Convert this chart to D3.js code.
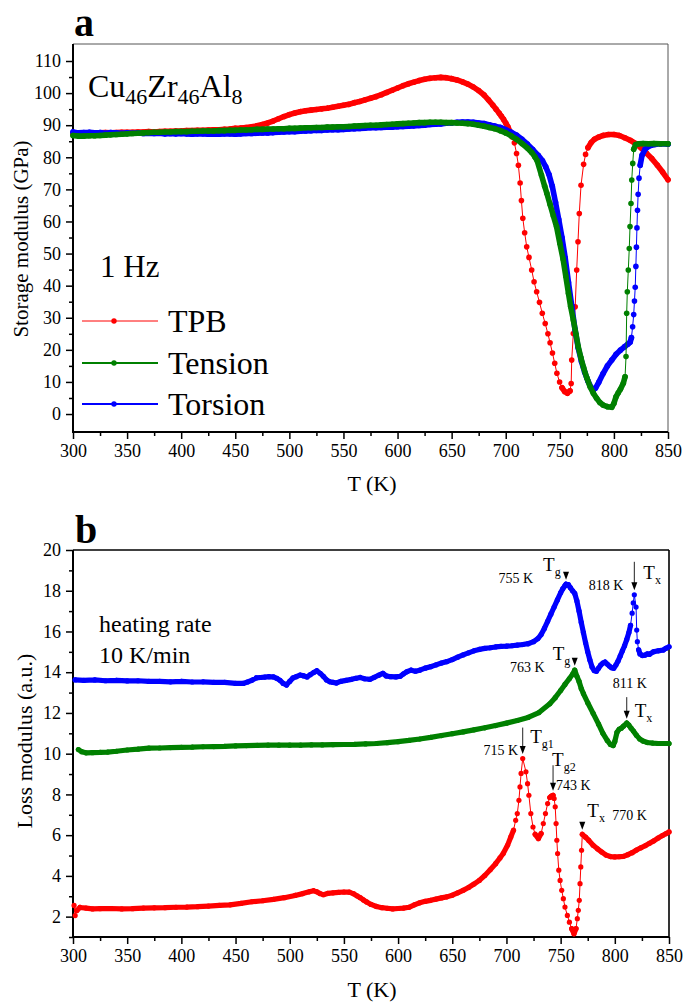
<!DOCTYPE html>
<html>
<head>
<meta charset="utf-8">
<script src="https://cdn.jsdelivr.net/npm/d3@7"></script>
<style>
  body { margin: 0; background: #fff; }
  svg { display: block; }
  text { font-family: 'Liberation Serif', 'Times New Roman', serif; fill: #000; }
</style>
</head>
<body>
<svg id="fig" width="685" height="1005"></svg>
<script>
// ---------- data ----------
const seriesNames = ["TPB", "Tension", "Torsion"];
const seriesColors = ["#ff0000", "#008000", "#0000ff"];

const tempTicks = [300, 350, 400, 450, 500, 550, 600, 650, 700, 750, 800, 850];
const storageTicks = [0, 10, 20, 30, 40, 50, 60, 70, 80, 90, 100, 110];
const lossTicks = [2, 4, 6, 8, 10, 12, 14, 16, 18, 20];

// measurement spacing of each trace (K), TPB / Tension / Torsion
const storageStep = [2.2, 0.6, 0.6];
const lossStep = [1.8, 0.6, 0.8];

// storage modulus E' (GPa) at 1 Hz, [T (K), E']
const storageTPB = [
[300,87.4],[305,87.5],[310,87.5],[315,87.6],[320,87.5],[325,87.6],[330,87.7],[335,87.6],[340,87.7],[345,87.8],
[350,87.8],[355,87.8],[360,87.9],[365,87.9],[370,88.0],[375,87.9],[380,88.0],[385,88.1],[390,88.1],[395,88.2],
[400,88.2],[405,88.3],[410,88.3],[415,88.4],[420,88.4],[425,88.5],[430,88.6],[435,88.6],[440,88.7],[445,88.8],
[450,89.0],[455,89.1],[460,89.3],[465,89.5],[470,89.8],[475,90.2],[480,90.7],[485,91.3],[490,92.0],[495,92.7],
[500,93.3],[505,93.8],[510,94.2],[515,94.5],[520,94.7],[525,94.9],[530,95.1],[535,95.3],[540,95.6],[545,95.9],
[550,96.2],[555,96.5],[560,97.0],[565,97.4],[570,97.9],[575,98.4],[580,98.9],[585,99.5],[590,100.2],[595,100.9],
[600,101.6],[605,102.3],[610,102.9],[615,103.4],[620,103.9],[625,104.3],[630,104.6],[635,104.8],[640,104.9],[645,104.8],
[650,104.5],[655,104.1],[660,103.5],[665,102.8],[670,101.9],[675,100.8],[680,99.4],[684,97.9],[688,96.3],[691,95.0],
[694,93.7],[696,92.8],[698,91.8],[700,90.7],[702,89.5],[704,88.0],[706,86.3],[708,84.5],[710,81.2],[711.7,77.5],
[713.3,72.0],[714.5,66.5],[715.8,61.0],[717.5,56.5],[719.4,52.1],[721.5,48.8],[724.0,44.9],[726.2,41.2],[728.6,38.1],[731.2,34.8],
[733.8,31.4],[736.5,28.2],[739.0,25.0],[741.0,22.2],[743.2,19.0],[745.3,15.8],[747.3,12.7],[749.8,10.0],[752.0,8.2],[754.5,7.0],
[757.0,6.5],[759.4,7.2],[760.5,9.5],[761.0,16.8],[762.5,25.1],[764.2,33.4],[765.6,44.9],[766.8,53.7],[768.0,62.5],[769.6,71.3],
[772.0,77.8],[773.8,80.9],[776,83.0],[779,84.6],[782,85.6],[786,86.3],[790,86.8],[795,87.1],[800,87.1],[805,86.8],
[810,86.1],[815,85.3],[820,84.3],[825,83.0],[830,81.3],[835,79.6],[840,77.6],[845,75.4],[850,73.0]
];

const storageTension = [
[300,86.8],[305,86.6],[310,86.6],[315,86.7],[320,86.7],[325,86.8],[330,86.9],[335,87.0],[340,87.1],[345,87.2],
[350,87.3],[355,87.4],[360,87.5],[365,87.6],[370,87.7],[375,87.8],[380,87.8],[385,87.9],[390,87.9],[395,88.0],
[400,88.0],[405,88.0],[410,88.1],[415,88.1],[420,88.2],[425,88.2],[430,88.2],[435,88.3],[440,88.3],[445,88.4],
[450,88.4],[455,88.5],[460,88.5],[465,88.6],[470,88.7],[475,88.7],[480,88.8],[485,88.8],[490,88.9],[495,88.9],
[500,89.0],[505,89.0],[510,89.1],[515,89.2],[520,89.2],[525,89.3],[530,89.3],[535,89.4],[540,89.4],[545,89.5],
[550,89.5],[555,89.6],[560,89.7],[565,89.8],[570,89.9],[575,90.0],[580,90.0],[585,90.1],[590,90.2],[595,90.3],
[600,90.4],[605,90.5],[610,90.6],[615,90.7],[620,90.8],[625,90.8],[630,90.9],[635,90.9],[640,90.9],[645,90.8],
[650,90.8],[655,90.7],[660,90.6],[665,90.5],[670,90.3],[675,90.0],[680,89.7],[685,89.3],[690,88.9],[695,88.3],
[700,87.6],[705,86.7],[710,85.6],[715,84.3],[720,82.9],[724,81.5],[727,80.1],[729,79.0],[733,74.5],[736,71.0],
[738,68.8],[741,65.3],[744,61.8],[747,58.4],[750,53.2],[753,48.3],[755.5,43.0],[758,37.6],[760,33.5],[762.5,29.3],
[765,24.8],[767,21.0],[769.5,17.5],[772,14.4],[775,11.2],[778,8.5],[781,6.5],[784,4.9],[787,3.6],[790,2.8],
[794,2.3],[798,2.1],[800,3.3],[802,5.4],[804,6.6],[806,7.7],[808.7,9.6],[810.3,11.6],[811.2,17.9],[811.8,31.4],
[812.4,38.1],[813.3,44.9],[814.2,51.6],[814.9,58.4],[815.8,65.6],[816.5,72.9],[817.4,78.1],[818.3,82.5],[820,83.9],[823,84.2],
[827,84.3],[832,84.2],[837,84.3],[843,84.2],[850,84.2]
];

const storageTorsion = [
[300,87.9],[305,87.6],[310,87.7],[315,87.8],[320,87.6],[325,87.7],[330,87.5],[335,87.7],[340,87.6],[345,87.5],
[350,87.6],[355,87.5],[360,87.6],[365,87.4],[370,87.5],[375,87.4],[380,87.5],[385,87.3],[390,87.4],[395,87.3],
[400,87.4],[405,87.3],[410,87.2],[415,87.3],[420,87.3],[425,87.2],[430,87.3],[435,87.2],[440,87.3],[445,87.3],
[450,87.2],[455,87.3],[460,87.4],[465,87.4],[470,87.5],[475,87.6],[480,87.6],[485,87.7],[490,87.8],[495,87.9],
[500,88.0],[505,88.0],[510,88.1],[515,88.2],[520,88.3],[525,88.4],[530,88.4],[535,88.5],[540,88.6],[545,88.6],
[550,88.7],[555,88.8],[560,88.9],[565,89.0],[570,89.1],[575,89.2],[580,89.2],[585,89.3],[590,89.4],[595,89.4],
[600,89.5],[605,89.6],[610,89.7],[615,89.8],[620,89.9],[625,90.0],[630,90.2],[635,90.3],[640,90.4],[645,90.6],
[650,90.7],[655,90.9],[660,91.0],[665,91.0],[670,90.9],[675,90.7],[680,90.5],[685,90.1],[690,89.7],[695,89.3],
[700,88.6],[705,87.8],[710,86.9],[715,85.6],[720,84.1],[725,82.4],[730,80.6],[734,78.9],[737,77.0],[740,74.6],
[743,71.0],[746,66.0],[749,60.6],[752,55.0],[755,48.6],[758,41.0],[761,33.8],[764,26.4],[767,20.6],[770,16.4],
[773,13.0],[776,10.3],[779,8.2],[781,7.5],[783,8.1],[786,9.9],[790,12.6],[794,15.0],[798,16.8],[802,18.6],
[806,19.9],[810,21.0],[813,21.8],[815,22.4],[816.2,23.8],[817.3,27.2],[818.3,31.0],[819.0,35.2],[819.7,39.5],[820.3,46.0],
[820.8,52.0],[821.3,58.0],[821.8,63.5],[822.4,68.5],[823.2,73.5],[824.3,77.5],[826,80.6],[829,82.6],[833,83.6],[838,84.0],
[843,84.2],[850,84.1]
];

// loss modulus E'' (a.u.), heating rate 10 K/min, [T (K), E'']
const lossTPB = [
[301,2.55],[302,2.05],[303.5,2.3],[306.5,2.45],[312,2.42],[318,2.38],[325,2.39],[335,2.4],[345,2.38],[355,2.39],
[365,2.42],[375,2.43],[385,2.44],[395,2.46],[405,2.47],[415,2.49],[425,2.52],[435,2.55],[445,2.58],[455,2.65],
[465,2.73],[475,2.78],[485,2.85],[495,2.93],[505,3.04],[512,3.13],[518,3.22],[522,3.27],[525,3.22],[528,3.13],
[531,3.08],[535,3.14],[540,3.17],[545,3.19],[550,3.21],[555,3.2],[559,3.12],[562,3.02],[565,2.93],[568,2.82],
[571,2.72],[575,2.6],[580,2.5],[585,2.44],[590,2.41],[595,2.38],[600,2.4],[605,2.42],[610,2.46],[615,2.58],
[620,2.68],[625,2.75],[630,2.8],[635,2.86],[640,2.92],[645,2.97],[650,3.05],[655,3.17],[660,3.29],[665,3.43],
[670,3.6],[675,3.78],[680,4.02],[685,4.3],[690,4.6],[694,4.88],[697,5.1],[701,5.5],[704,5.91],[706.5,6.24],
[708.5,6.73],[710,7.06],[711.5,7.71],[712.5,8.37],[713.5,9.03],[715,9.76],[718,9.11],[719.5,8.53],[720.7,7.96],[722.5,7.06],
[724.5,6.4],[726.5,6.04],[729.5,5.83],[732,6.08],[734,6.57],[736,7.06],[738,7.55],[740,7.85],[741.5,7.92],[743,7.96],
[744,7.8],[745,7.39],[745.8,6.57],[746.5,5.75],[747.2,5.1],[748.3,4.28],[749.5,3.78],[751,3.29],[752.5,2.88],[754,2.47],
[756.2,2.06],[758.1,1.73],[760.2,1.41],[762.3,1.16],[764.2,1.41],[765.4,1.9],[766.3,2.31],[767.2,2.8],[767.9,3.62],[768.6,4.44],
[769.3,5.26],[770,6.04],[773,5.9],[776,5.74],[780,5.5],[784,5.33],[788,5.17],[792,5.02],[796,4.95],[800,4.93],
[804,4.94],[808,4.96],[812,5.04],[816,5.14],[820,5.27],[824,5.38],[828,5.48],[832,5.6],[836,5.72],[840,5.86],
[844,5.98],[847,6.07],[850,6.16]
];

const lossTension = [
[305,10.2],[308,10.1],[312,10.04],[318,10.05],[325,10.06],[332,10.08],[340,10.12],[350,10.18],[360,10.22],[370,10.27],
[380,10.28],[390,10.3],[400,10.31],[410,10.32],[420,10.34],[430,10.35],[440,10.36],[450,10.38],[460,10.4],[470,10.41],
[480,10.42],[490,10.42],[500,10.42],[510,10.42],[520,10.43],[530,10.43],[540,10.44],[550,10.45],[560,10.46],[570,10.48],
[580,10.5],[590,10.54],[600,10.59],[610,10.65],[620,10.72],[630,10.8],[640,10.89],[650,10.98],[660,11.07],[670,11.17],
[680,11.27],[690,11.38],[700,11.5],[710,11.63],[720,11.78],[730,12.02],[740,12.45],[745,12.75],[750,13.1],[754,13.4],
[758,13.68],[761,13.9],[763,14.1],[765,13.8],[767,13.55],[769,13.2],[771,12.95],[775,12.5],[780,11.98],[785,11.45],
[789,11.0],[793,10.65],[796,10.45],[798.5,10.4],[800,10.6],[802,11.05],[804,11.2],[806,11.25],[808,11.35],[811,11.5],
[813,11.4],[815,11.25],[817,11.12],[820,10.9],[823,10.72],[826,10.62],[830,10.55],[835,10.52],[840,10.5],[845,10.5],
[850,10.5]
];

const lossTorsion = [
[302,13.62],[310,13.6],[320,13.62],[330,13.58],[340,13.6],[350,13.57],[360,13.58],[370,13.55],[380,13.55],[390,13.53],
[400,13.55],[410,13.52],[420,13.53],[430,13.5],[440,13.5],[450,13.45],[457,13.45],[461,13.52],[465,13.6],[469,13.72],
[473,13.74],[477,13.76],[481,13.78],[485,13.77],[488,13.7],[491,13.6],[494,13.45],[497,13.37],[500,13.55],[503,13.72],
[506,13.78],[509.5,13.86],[513,13.82],[516,13.77],[519,13.88],[522,13.98],[525,14.07],[528,13.95],[531,13.8],[534,13.62],
[537,13.53],[540,13.5],[543,13.47],[547,13.55],[552,13.6],[557,13.65],[561,13.7],[565,13.74],[569,13.68],[574,13.65],
[578,13.75],[582,13.85],[586,13.94],[589,13.82],[593,13.78],[598,13.77],[602,13.8],[605,13.92],[608,14.02],[612,14.1],
[616,14.05],[620,14.1],[625,14.2],[630,14.27],[635,14.36],[640,14.45],[645,14.52],[650,14.62],[655,14.74],[660,14.85],
[665,14.95],[670,15.05],[675,15.12],[680,15.17],[685,15.2],[690,15.24],[695,15.27],[700,15.28],[705,15.3],[710,15.33],
[715,15.36],[720,15.4],[725,15.5],[729,15.65],[732,15.85],[735,16.15],[738,16.5],[741,16.85],[744,17.2],[747,17.55],
[750,17.9],[752,18.1],[754,18.25],[755,18.32],[757,18.3],[759,18.15],[761,18.0],[763,17.87],[765,17.5],[767,17.0],
[769,16.45],[771,15.95],[773,15.45],[775,15.0],[777,14.6],[779,14.25],[781,14.08],[783,14.05],[785,14.2],[787,14.35],
[789,14.45],[791,14.5],[793,14.4],[795,14.3],[797,14.22],[799,14.2],[801,14.35],[803,14.55],[805,14.8],[807,15.05],
[809,15.3],[811,15.6],[813,15.95],[814.5,16.3],[816,16.9],[817,17.4],[818,17.8],[819.6,17.2],[820.2,16.07],[820.8,15.5],
[822,15.1],[823.2,14.9],[825.5,14.82],[827.9,14.84],[830,14.9],[832,14.88],[835.5,15.0],[840,15.05],[844.7,15.09],[847,15.17],
[850,15.25]
];

// characteristic temperatures marked on the loss curves
const lossMarks = [
  { series: 2, T: 755, label: "755 K", sub: "g",  stem: false },
  { series: 2, T: 818, label: "818 K", sub: "x",  stem: true  },
  { series: 1, T: 763, label: "763 K", sub: "g",  stem: false },
  { series: 1, T: 811, label: "811 K", sub: "x",  stem: true  },
  { series: 0, T: 715, label: "715 K", sub: "g1", stem: true  },
  { series: 0, T: 743, label: "743 K", sub: "g2", stem: true  },
  { series: 0, T: 770, label: "770 K", sub: "x",  stem: false }
];

// ---------- layout ----------
const svg = d3.select("#fig");
const storageSeries = [storageTPB, storageTension, storageTorsion];
const lossSeries = [lossTPB, lossTension, lossTorsion];

const xA = d3.scaleLinear().domain([300, 850]).range([73, 668]);
const yA = d3.scaleLinear().domain([-5.6, 115.3]).range([432, 44]);
const xB = d3.scaleLinear().domain([300, 850]).range([73, 669]);
const yB = d3.scaleLinear().domain([1, 20]).range([937, 550]);

// where each mark's text sits relative to the marked point
const markLayout = [
  { stemTop: 0,   tx: -23, ty: -13, lx: -33, ly: -1,  anchor: "end" },
  { stemTop: -33, tx: 9,   ty: -16, lx: -11, ly: -5,  anchor: "end" },
  { stemTop: 0,   tx: -22, ty: -10, lx: -30, ly: 2,   anchor: "end" },
  { stemTop: -26, tx: 8,   ty: -6,  lx: 3,   ly: -35, anchor: "middle" },
  { stemTop: -31, tx: 7.5, ty: -16, lx: -4.5, ly: -4, anchor: "end" },
  { stemTop: -30, tx: -1,  ty: -29, lx: 3,   ly: -5,  anchor: "start" },
  { stemTop: 0,   tx: 5,   ty: -17, lx: 30,  ly: -14, anchor: "start" }
];

// ---------- helpers ----------
function minorBetween(ticks) {
  return d3.pairs(ticks).map(([a, b]) => (a + b) / 2);
}

function drawAxes(g, x, y, xTicks, yTicks, yMinor, frameColor, frameWidth) {
  const [x0, x1] = x.range();
  const [yb, yt] = y.range();

  // frame on top and right
  g.append("line").attr("x1", x0).attr("x2", x1).attr("y1", yt).attr("y2", yt)
    .attr("stroke", frameColor).attr("stroke-width", frameWidth);
  g.append("line").attr("x1", x1).attr("x2", x1).attr("y1", yt).attr("y2", yb)
    .attr("stroke", frameColor).attr("stroke-width", frameWidth);

  const gx = g.append("g").attr("transform", `translate(0,${yb})`)
    .call(d3.axisBottom(x).tickValues(xTicks).tickSize(7).tickPadding(5).tickSizeOuter(0));
  g.append("g").attr("transform", `translate(0,${yb})`)
    .call(d3.axisBottom(x).tickValues(minorBetween(xTicks)).tickSize(4).tickFormat("").tickSizeOuter(0))
    .call(s => s.select(".domain").remove());

  const gy = g.append("g").attr("transform", `translate(${x0},0)`)
    .call(d3.axisLeft(y).tickValues(yTicks).tickSize(7).tickPadding(5).tickSizeOuter(0));
  g.append("g").attr("transform", `translate(${x0},0)`)
    .call(d3.axisLeft(y).tickValues(yMinor).tickSize(4).tickFormat("").tickSizeOuter(0))
    .call(s => s.select(".domain").remove());

  g.selectAll(".domain").attr("stroke", "#000").attr("stroke-width", 2);
  g.selectAll(".tick line").attr("stroke", "#000").attr("stroke-width", 1.5);
  g.selectAll(".tick text").attr("font-size", 18)
    .attr("font-family", "'Liberation Serif','Times New Roman',serif").attr("fill", "#000");

  // extend the axis lines so the corner is closed
  gx.select(".domain").attr("d", `M${x0 - 1},0H${x1}`);
  gy.select(".domain").attr("d", `M0,${yb + 1}V${yt}`);
}

// Dense measured points merge into a solid trace; where the curve is steep
// the individual points separate and are joined by a thin line.
function drawTrace(g, pts, color, x, y, step, r) {
  const line = d3.line().x(d => x(d[0])).y(d => y(d[1]));
  const band = [], thin = [];
  d3.pairs(pts).forEach(([a, b]) => {
    const rise = Math.abs(y(b[1]) - y(a[1])) / Math.abs(b[0] - a[0]) * step;
    (rise < 2 * r ? band : thin).push(line([a, b]));
  });
  g.append("path").attr("d", thin.join("")).attr("fill", "none")
    .attr("stroke", color).attr("stroke-width", 1);
  g.append("path").attr("d", band.join("")).attr("fill", "none")
    .attr("stroke", color).attr("stroke-width", 2 * r)
    .attr("stroke-linecap", "round").attr("stroke-linejoin", "round");
  g.append("g").selectAll("circle").data(pts).join("circle")
    .attr("cx", d => x(d[0])).attr("cy", d => y(d[1])).attr("r", r).attr("fill", color);
}

// text with subscripts: parts = [[string, isSub], ...]
function richText(parent, xPos, yPos, parts, size, subSize, shift) {
  const t = parent.append("text").attr("x", xPos).attr("y", yPos).attr("font-size", size);
  let down = false;
  parts.forEach(([s, sub]) => {
    const sp = t.append("tspan").text(s).attr("font-size", sub ? subSize : size);
    if (sub && !down) { sp.attr("dy", shift); down = true; }
    else if (!sub && down) { sp.attr("dy", -shift); down = false; }
  });
  return t;
}

// ---------- panel a : storage modulus ----------
const gA = svg.append("g");
drawAxes(gA, xA, yA, tempTicks, storageTicks, minorBetween(storageTicks), "#555", 1);

const tracesA = gA.append("g");
[0, 2, 1].forEach(i => drawTrace(tracesA, storageSeries[i], seriesColors[i], xA, yA, storageStep[i], 2.8));

svg.append("text").attr("x", 74).attr("y", 36).attr("font-size", 40).attr("font-weight", "bold").text("a");
richText(svg, 88, 97, [["Cu", 0], ["46", 1], ["Zr", 0], ["46", 1], ["Al", 0], ["8", 1]], 32, 22, 7);
svg.append("text").attr("x", 100).attr("y", 277).attr("font-size", 31).text("1 Hz");

// legend
const legendRows = [321, 363, 404];
const legendWidths = [1, 2, 2];
seriesNames.forEach((name, i) => {
  const lg = svg.append("g").attr("transform", `translate(0,${legendRows[i]})`);
  lg.append("line").attr("x1", 82).attr("x2", 158).attr("y1", 0).attr("y2", 0)
    .attr("stroke", seriesColors[i]).attr("stroke-width", legendWidths[i]);
  lg.append("circle").attr("cx", 114).attr("cy", 0).attr("r", 2.7).attr("fill", seriesColors[i]);
  lg.append("text").attr("x", 168).attr("y", 11).attr("font-size", 32).text(name);
});

svg.append("text").attr("x", 372).attr("y", 491).attr("font-size", 22)
  .attr("text-anchor", "middle").text("T (K)");
svg.append("text").attr("transform", "translate(28,239) rotate(-90)")
  .attr("font-size", 21).attr("text-anchor", "middle").text("Storage modulus (GPa)");

// ---------- panel b : loss modulus ----------
const gB = svg.append("g");
drawAxes(gB, xB, yB, tempTicks, lossTicks, [1].concat(minorBetween(lossTicks)), "#000", 1.6);

const tracesB = gB.append("g");
[0, 1, 2].forEach(i => drawTrace(tracesB, lossSeries[i], seriesColors[i], xB, yB, lossStep[i], 2.6));

svg.append("text").attr("x", 75).attr("y", 543).attr("font-size", 40).attr("font-weight", "bold").text("b");
svg.append("text").attr("x", 99).attr("y", 632).attr("font-size", 24).text("heating rate");
svg.append("text").attr("x", 99).attr("y", 663).attr("font-size", 24).text("10 K/min");

// marks for Tg / Tx
const marksG = svg.append("g");
lossMarks.forEach((m, i) => {
  const L = markLayout[i];
  const pt = lossSeries[m.series].reduce((best, d) =>
    Math.abs(d[0] - m.T) < Math.abs(best[0] - m.T) ? d : best);
  const ax = xB(m.T), py = yB(pt[1]);
  const tip = py - 4.5;
  if (m.stem) {
    marksG.append("line").attr("x1", ax).attr("x2", ax)
      .attr("y1", py + L.stemTop).attr("y2", tip - 6)
      .attr("stroke", "#222").attr("stroke-width", 1);
  }
  marksG.append("path")
    .attr("d", `M${ax - 3},${tip - 8}L${ax + 3},${tip - 8}L${ax},${tip}Z`)
    .attr("fill", "#000");
  richText(marksG, ax + L.tx, py + L.ty, [["T", 0], [m.sub, 1]], 19, 12, 5);
  marksG.append("text").attr("x", ax + L.lx).attr("y", py + L.ly)
    .attr("font-size", 14).attr("text-anchor", L.anchor).text(m.label);
});

svg.append("text").attr("x", 372).attr("y", 997).attr("font-size", 22)
  .attr("text-anchor", "middle").text("T (K)");
svg.append("text").attr("transform", "translate(32,741) rotate(-90)")
  .attr("font-size", 22).attr("text-anchor", "middle").text("Loss modulus (a.u.)");
</script>
</body>
</html>
